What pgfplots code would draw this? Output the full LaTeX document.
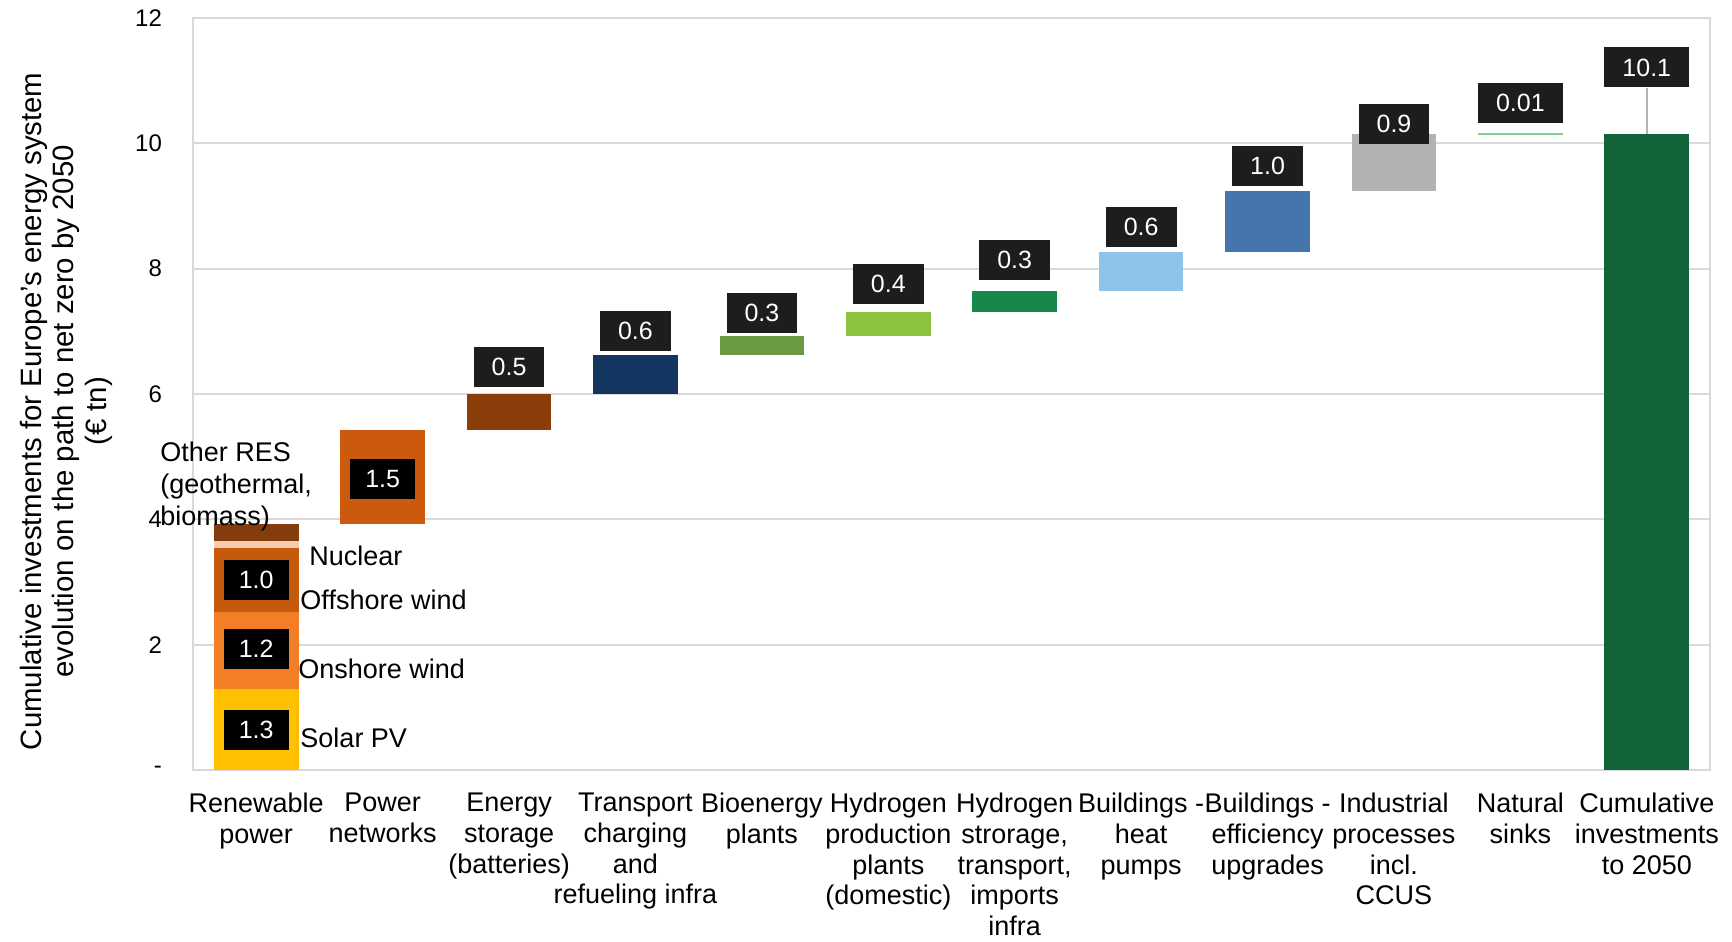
\documentclass[border=0pt]{standalone}
\usepackage{pgfplots}
\pgfplotsset{compat=1.18}
\usepackage{pgfplotstable}
\usepackage{fontspec}
\setmainfont{Liberation Sans}

\definecolor{solar}{HTML}{FFC000}
\definecolor{onshore}{HTML}{F47E25}
\definecolor{offshore}{HTML}{C65A0C}
\definecolor{nuclear}{HTML}{F8CBAD}
\definecolor{otherres}{HTML}{843C0C}
\definecolor{networks}{HTML}{CB5A0C}
\definecolor{storage}{HTML}{8B3E0A}
\definecolor{transport}{HTML}{12365F}
\definecolor{bio}{HTML}{6A9A40}
\definecolor{hprod}{HTML}{8DC43F}
\definecolor{hstor}{HTML}{15884A}
\definecolor{heat}{HTML}{8EC4EA}
\definecolor{eff}{HTML}{4674AD}
\definecolor{ind}{HTML}{B1B2B4}
\definecolor{sinks}{HTML}{7ED08F}
\definecolor{cum}{HTML}{116437}
\definecolor{boxc}{HTML}{1E1C1D}
\definecolor{gridc}{HTML}{D9D9D9}

\pgfplotstableread{
x  base solar onshore offshore nuclear otherres networks storage transport bio  hprod hstor heat eff  ind  cum
0  0    1.30  1.22    1.02     0.11    0.28     0        0       0         0    0     0     0    0    0    0
1  3.93 0     0       0        0       0        1.50     0       0         0    0     0     0    0    0    0
2  5.43 0     0       0        0       0        0        0.57    0         0    0     0     0    0    0    0
3  6.00 0     0       0        0       0        0        0       0.62      0    0     0     0    0    0    0
4  6.62 0     0       0        0       0        0        0       0         0.30 0     0     0    0    0    0
5  6.92 0     0       0        0       0        0        0       0         0    0.39  0     0    0    0    0
6  7.31 0     0       0        0       0        0        0       0         0    0     0.33  0    0    0    0
7  7.64 0     0       0        0       0        0        0       0         0    0     0     0.63 0    0    0
8  8.27 0     0       0        0       0        0        0       0         0    0     0     0    0.97 0    0
9  9.24 0     0       0        0       0        0        0       0         0    0     0     0    0    0.91 0
10 0    0     0       0        0       0        0        0       0         0    0     0     0    0    0    0
11 0    0     0       0        0       0        0        0       0         0    0     0     0    0    0    10.15
}\waterfall

\begin{document}
\begin{tikzpicture}[
  box/.style={fill=boxc, text=white, font=\fontsize{12.5}{14}\selectfont, minimum height=20pt, inner xsep=9pt, inner ysep=0pt},
  sbox/.style={box, fill=black, inner xsep=7.5pt},
  ann/.style={anchor=west, align=left, inner sep=0pt, font=\fontsize{13.5}{16}\selectfont},
]
\path[use as bounding box] (-96.5pt,-85.5pt) rectangle (769.5pt,385pt);
\begin{axis}[
  at={(0,0)}, anchor=south west,
  scale only axis, width=758.5pt, height=376pt,
  xmin=-0.5, xmax=11.5, ymin=0, ymax=12,
  ybar stacked, bar width=0.67,
  xtick={0,...,11},
  xticklabels={{Renewable\\power},{Power\\networks},{Energy\\storage\\(batteries)},{Transport\\charging\\and\\refueling infra},{Bioenergy\\plants},{Hydrogen\\production\\plants\\(domestic)},{Hydrogen\\strorage,\\transport,\\imports\\infra},{Buildings -\\heat\\pumps},{Buildings -\\efficiency\\upgrades},{Industrial\\processes\\incl.\\CCUS},{Natural\\sinks},{Cumulative\\investments\\to 2050}},
  ytick={0,2,...,12},
  yticklabels={-,2,4,6,8,10,12},
  ymajorgrids, grid style={gridc, line width=0.9pt},
  axis line style={gridc, line width=0.9pt},
  major tick length=0pt,
  xticklabel style={font=\fontsize{13.5}{15.3}\selectfont, align=center, anchor=north, inner sep=1pt, yshift=-10.5pt},
  yticklabel style={font=\fontsize{12}{14}\selectfont, anchor=east, xshift=-12pt},
  ylabel={Cumulative investments for Europe's energy system\\evolution on the path to net zero by 2050\\(€ tn)},
  ylabel style={at={(axis description cs:-0.0835,0.477)}, anchor=center, align=center, font=\fontsize{14.7}{16.3}\selectfont},
  clip=false,
]
\addplot[draw=none, fill=none] table[x=x,y=base]{\waterfall};
\addplot[draw=none, fill=solar] table[x=x,y=solar]{\waterfall};
\addplot[draw=none, fill=onshore] table[x=x,y=onshore]{\waterfall};
\addplot[draw=none, fill=offshore] table[x=x,y=offshore]{\waterfall};
\addplot[draw=none, fill=nuclear] table[x=x,y=nuclear]{\waterfall};
\addplot[draw=none, fill=otherres] table[x=x,y=otherres]{\waterfall};
\addplot[draw=none, fill=networks] table[x=x,y=networks]{\waterfall};
\addplot[draw=none, fill=storage] table[x=x,y=storage]{\waterfall};
\addplot[draw=none, fill=transport] table[x=x,y=transport]{\waterfall};
\addplot[draw=none, fill=bio] table[x=x,y=bio]{\waterfall};
\addplot[draw=none, fill=hprod] table[x=x,y=hprod]{\waterfall};
\addplot[draw=none, fill=hstor] table[x=x,y=hstor]{\waterfall};
\addplot[draw=none, fill=heat] table[x=x,y=heat]{\waterfall};
\addplot[draw=none, fill=eff] table[x=x,y=eff]{\waterfall};
\addplot[draw=none, fill=ind] table[x=x,y=ind]{\waterfall};
\addplot[draw=none, fill=cum] table[x=x,y=cum]{\waterfall};
\end{axis}
\begin{axis}[
  at={(0,0)}, anchor=south west,
  scale only axis, width=758.5pt, height=376pt,
  xmin=-0.5, xmax=11.5, ymin=0, ymax=12,
  hide axis, clip=false,
]
% natural sinks (0.01) and connector line
\addplot[sinks, line width=1.1pt] coordinates {(9.665,10.155) (10.335,10.155)};
\addplot[gray!60, line width=0.8pt] coordinates {(11,10.15) (11,10.89)};
\node[sbox] at (axis cs:0,0.64) {1.3};
\node[sbox] at (axis cs:0,1.93) {1.2};
\node[sbox] at (axis cs:0,3.03) {1.0};
\node[sbox] at (axis cs:1,4.65) {1.5};
\node[box] at (axis cs:2,6.43) {0.5};
\node[box] at (axis cs:3,7.01) {0.6};
\node[box] at (axis cs:4,7.29) {0.3};
\node[box] at (axis cs:5,7.75) {0.4};
\node[box] at (axis cs:6,8.14) {0.3};
\node[box] at (axis cs:7,8.66) {0.6};
\node[box] at (axis cs:8,9.64) {1.0};
\node[box] at (axis cs:9,10.31) {0.9};
\node[box] at (axis cs:10,10.65) {0.01};
\node[box] at (axis cs:11,11.21) {10.1};
\node[ann] at (axis cs:-0.761,4.53) {Other RES\\(geothermal,\\biomass)};
\node[ann] at (axis cs:0.418,3.41) {Nuclear};
\node[ann] at (axis cs:0.347,2.71) {Offshore wind};
\node[ann] at (axis cs:0.33,1.62) {Onshore wind};
\node[ann] at (axis cs:0.347,0.51) {Solar PV};
\end{axis}
\end{tikzpicture}
\end{document}
